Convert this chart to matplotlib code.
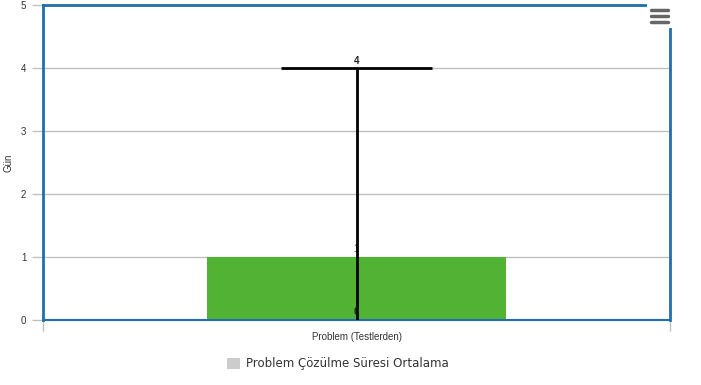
import matplotlib.pyplot as plt
from matplotlib.patches import Rectangle
from matplotlib.lines import Line2D

categorias = ["Problem (Testlerden)"]
valores = [1]
erro_min = [0]
erro_max = [4]
serie = "Problem Çözülme Süresi Ortalama"

plt.rcParams['font.family'] = ['Liberation Sans', 'DejaVu Sans']

fig = plt.figure(figsize=(7.01, 3.85), dpi=100)
ax = fig.add_axes([43 / 701, 65 / 385, 627 / 701, 315 / 385])

x = list(range(len(categorias)))
ax.bar(x, valores, width=0.478, color='#52b234', zorder=2)

for xi, v, lo, hi in zip(x, valores, erro_min, erro_max):
    ax.vlines(xi, lo, hi, color='black', lw=2, zorder=3)
    ax.hlines(hi, xi - 0.12, xi + 0.12, color='black', lw=2, zorder=3)
    ax.text(xi, hi + 0.03, f"{hi}", ha='center', va='bottom', fontsize=7, fontweight='bold', color='#222222', zorder=4)
    ax.text(xi, v + 0.05, f"{v}", ha='center', va='bottom', fontsize=7, color='#444444', zorder=2.5)
    ax.text(xi, lo + 0.05, f"{lo}", ha='center', va='bottom', fontsize=7, fontweight='bold', color='#222222', zorder=4)

ax.set_xlim(-0.5, len(categorias) - 0.5)
ax.set_ylim(0, 5)
ax.set_yticks(range(6))
ax.yaxis.grid(True, color='#c0c0c0', lw=1, zorder=0)
ax.set_axisbelow(True)

ax.set_xticks(x)
ax.set_xticklabels(categorias, fontsize=7, color='#333333')
ax.tick_params(axis='x', length=0, pad=9)
ax.set_xticks([-0.5, len(categorias) - 0.5], minor=True)
ax.tick_params(axis='x', which='minor', length=8, color='#c0c0c0', width=1)
ax.tick_params(axis='y', length=8, color='#c0c0c0', width=1, labelsize=7, labelcolor='#333333', pad=4)

for lado in ['left', 'right', 'top']:
    ax.spines[lado].set_color('#1f6eb0')
    ax.spines[lado].set_linewidth(2)
ax.spines['bottom'].set_color('#1f6eb0')
ax.spines['bottom'].set_linewidth(1.5)

ax.set_ylabel("Gün", fontsize=7, color='#333333')
ax.yaxis.set_label_coords(-29 / 627, 0.5)

handle = Rectangle((0, 0), 1, 1, facecolor='#cccccc', edgecolor='none')
fig.legend([handle], [serie], loc='center', bbox_to_anchor=(0.482, 0.055), frameon=False,
           prop={'family': ['DejaVu Sans'], 'size': 8.5}, labelcolor='#333333',
           handlelength=1.1, handleheight=1.1, handletextpad=0.5)

# menu icon
fig.patches.append(Rectangle((647 / 701, 1 - 28 / 385), 26 / 701, 24 / 385, transform=fig.transFigure,
                             facecolor='white', edgecolor='none', zorder=10))
for yy in [10, 16, 22]:
    fig.lines.append(Line2D([651 / 701, 668 / 701], [1 - yy / 385] * 2, transform=fig.transFigure,
                            color='#666666', lw=2.5, solid_capstyle='round', zorder=11))

fig.savefig("out.png", dpi=100)
